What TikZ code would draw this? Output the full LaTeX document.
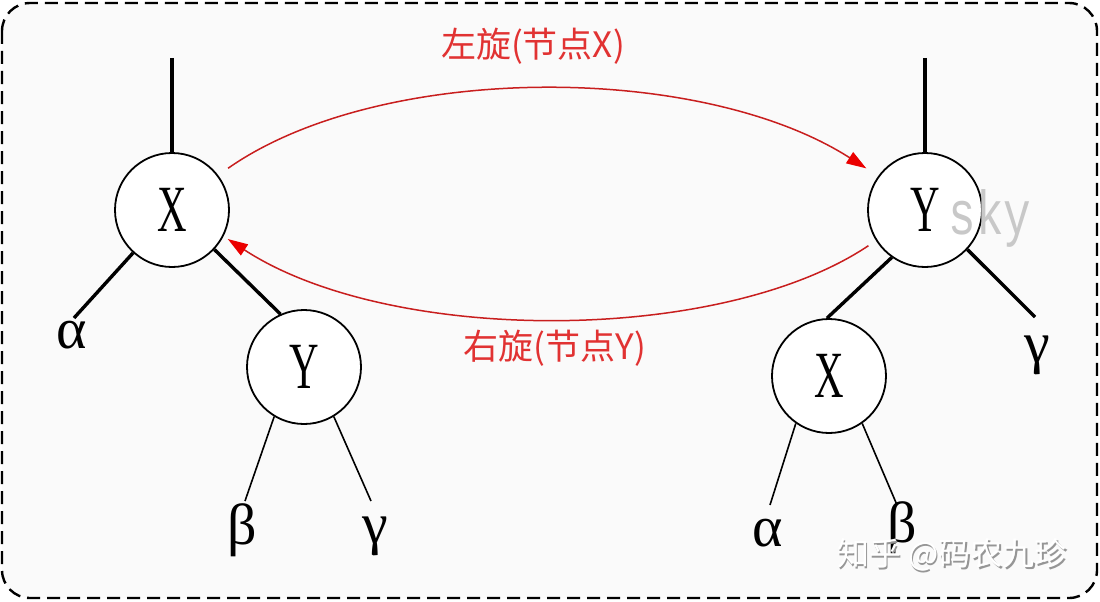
\documentclass[tikz,border=0pt]{standalone}
\usepackage{fontspec}
\usepackage{graphicx}
\setmainfont{Liberation Serif}
\newfontfamily\cjk{Noto Sans CJK SC}
\newfontfamily\monofnt{Liberation Mono}
\usetikzlibrary{arrows.meta}
\definecolor{bg}{RGB}{250,250,250}
\definecolor{arrred}{RGB}{200,30,30}
\definecolor{tipred}{RGB}{235,0,0}
\definecolor{lblred}{RGB}{225,50,50}
\definecolor{skygray}{RGB}{200,200,200}
\definecolor{wmgray}{RGB}{150,150,150}
\begin{document}
\begin{tikzpicture}[x=1pt,y=-1pt,
 treenode/.style={circle,draw,fill=white,line width=1.8pt,minimum size=114pt,inner sep=0pt,font=\fontsize{66}{66}\selectfont},
 thickedge/.style={line width=3.4pt},
 thinedge/.style={line width=1.6pt},
 greek/.style={inner sep=0pt,font=\fontsize{58}{58}\selectfont},
 rot/.style={draw=arrred,line width=1.5pt,-{Triangle[length=20pt,width=13pt,color=tipred]}},
 rotlabel/.style={text=lblred,font=\cjk\fontsize{35}{35}\selectfont,inner sep=0pt},
 wm/.style={font=\cjk\fontsize{32}{32}\selectfont,inner sep=0pt},
]
\useasboundingbox (0,0) rectangle (1100,602);
\draw[dash pattern=on 13pt off 7pt, line width=2.4pt, fill=bg, rounded corners=28pt] (2,3) rectangle (1097,598);

% left tree
\node[treenode] (LX) at (172,210) {\scalebox{0.62}[1]{X}};
\node[treenode] (LY) at (304,367) {\scalebox{0.62}[1]{Y}};
\coordinate (LXtop) at (172,58);
\coordinate (LXa) at (74,318);
\coordinate (LYb) at (245,501);
\coordinate (LYg) at (371,501);
\node[greek] (la) at (72,335) {α};
\node[greek] (lb) at (242,530) {β};
\node[greek] (lg) at (375,536) {γ};
\draw[thickedge] (LXtop) -- (LX);
\draw[thickedge] (LX) -- (LXa);
\draw[thickedge] (LX.-43) -- (LY.114);
\draw[thinedge] (LY.-121) -- (LYb);
\draw[thinedge] (LY.-59) -- (LYg);

% right tree
\node[treenode] (RY) at (925,210) {\scalebox{0.62}[1]{Y}};
\node[treenode] (RX) at (829,376) {\scalebox{0.62}[1]{X}};
\coordinate (RYtop) at (925,58);
\coordinate (RYg) at (1035,317);
\coordinate (RXa) at (770,505);
\coordinate (RXb) at (897,505);
\node[greek] (rg) at (1037,355) {γ};
\node[greek] (ra) at (768,533) {α};
\node[greek] (rb) at (902,528) {β};
\draw[thickedge] (RYtop) -- (RY);
\draw[thickedge] (RY.-125) -- (RX.92);
\draw[thickedge] (RY.-43) -- (RYg);
\draw[thinedge] (RX.-125) -- (RXa);
\draw[thinedge] (RX.-55) -- (RXb);

% sky
\node[inner sep=0pt,text=skygray,font=\monofnt\fontsize{46}{46}\selectfont] (sky) at (990,218) {\scalebox{1}[1.35]{sky}};

% rotations
\draw[rot, shorten <=12pt, shorten >=14pt] (LX.37) .. controls (380,62) and (700,62) .. (RY.144);
\draw[rot, shorten <=9pt, shorten >=5pt] (RY.-148) .. controls (720,345) and (390,345) .. (LX.-27);
\node[rotlabel] (ll) at (533,46) {左旋(节点X)};
\node[rotlabel] (rl) at (555,348) {右旋(节点Y)};

% watermark
\node[wm,text=wmgray] (wms) at (953.5,556.5) {知乎 @码农九珍};
\node[wm,text=white] (wmt) at (952,555) {知乎 @码农九珍};
\end{tikzpicture}
\end{document}
